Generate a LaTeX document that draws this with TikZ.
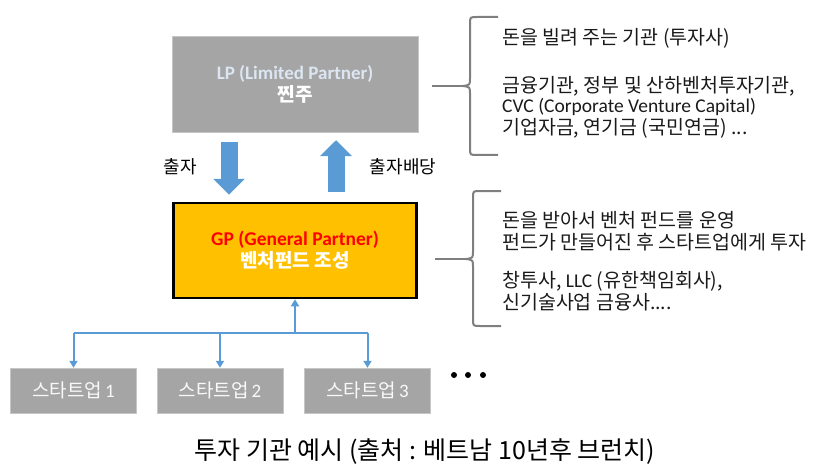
\documentclass[tikz,border=0pt]{standalone}
\usepackage{fontspec}
\setmainfont{Noto Sans CJK KR}
\newfontfamily\lat{Carlito}
\usetikzlibrary{arrows.meta,positioning,calc}
\definecolor{boxgray}{HTML}{A5A5A5}
\definecolor{lptext}{HTML}{DCE6F2}
\definecolor{gpyellow}{HTML}{FFC000}
\definecolor{arrowblue}{HTML}{5B9BD5}
\definecolor{bracegray}{HTML}{7F7F7F}
\definecolor{notetext}{HTML}{1A1A1A}

\begin{document}
\begin{tikzpicture}[x=1pt,y=-1pt,
gbox/.style={draw=gray!45,fill=boxgray,inner sep=0,align=center},
lpbox/.style={gbox,minimum width=246pt,minimum height=96pt},
gpbox/.style={draw=black,line width=2.5pt,fill=gpyellow,minimum width=243pt,minimum height=95pt,inner sep=0,align=center},
sbox/.style={gbox,minimum width=126pt,minimum height=45pt,text=white!95!gray,font=\fontsize{19}{22}\selectfont},
flow/.style={line width=17pt,draw=arrowblue,-{Triangle[width=31pt,length=16pt]}},
link/.style={line width=2pt,draw=arrowblue,-{Triangle[width=8pt,length=7pt]}},
brace/.style={line width=2pt,draw=bracegray},
note/.style={anchor=west,align=left,inner sep=0,text=notetext,font=\fontsize{19.5}{21}\selectfont},
lab/.style={font=\fontsize{18}{20}\selectfont}]
	\useasboundingbox (0,0) rectangle (838,468);

	\node[lpbox] (lp) at (295,84) {{\lat\bfseries\fontsize{19}{20}\selectfont\color{lptext}LP (Limited Partner)}\\[2pt]{\bfseries\fontsize{19}{22}\selectfont\color{white}찐주}};
	\node[gpbox] (gp) at (295,250.5) {{\lat\bfseries\fontsize{19.5}{20}\selectfont\color{red}GP (General Partner)}\\[2pt]{\bfseries\fontsize{19}{22}\selectfont\color{white}벤처펀드 조성}};
	\foreach \i/\x in {1/73.5,2/220,3/367.5} {
		\node[sbox] (s\i) at (\x,390.5) {스타트업\,{\lat\i}};
	}

	%invest
	\draw[flow] ($(lp.south)+(-66,10)$) -- ($(gp.north)+(-66,-7)$);
	\node[lab] (give) at (180,167) {출자};
	%dividend
	\draw[flow] ($(gp.north)+(41,-10)$) -- ($(lp.south)+(41,8)$);
	\node[lab] (back) at (403,167) {출자배당};

	%startups
	\coordinate (hub) at ($(gp.south)+(0,34)$);
	\draw[link] (hub) -- (gp.south);
	\draw[line width=2pt,draw=arrowblue] (s1.north |- hub) -- (s3.north |- hub);
	\foreach \i in {1,2,3} {
		\draw[link] (s\i.north |- hub) -- (s\i.north);
	}
	\foreach \x in {454,468,483} {
		\fill (\x,375) circle (3pt);
	}

	%braces
	\foreach \bx/\my/\ty/\by in {470/86/17/155,473/259/191/326} {
		\draw[brace] ({\bx-38},\my) -- ({\bx-7},\my);
		\draw[brace] ({\bx+28},\ty) -- ({\bx+7},\ty) .. controls (\bx,\ty) .. (\bx,{\ty+7})
			-- (\bx,{\my-8}) .. controls (\bx,{\my-1}) .. ({\bx-7},\my)
			.. controls (\bx,{\my+1}) .. (\bx,{\my+8}) -- (\bx,{\by-7})
			.. controls (\bx,\by) .. ({\bx+7},\by) -- ({\bx+28},\by);
	}

	\node[note] (lpn1) at (502,38) {돈을 빌려 주는 기관 (투자사)};
	\node[note] (lpn2) at (502,107) {금융기관, 정부 및 산하벤처투자기관,\\[-1pt]{\lat\fontsize{19.5}{20}\selectfont CVC (Corporate Venture Capital)}\\[1pt]기업자금, 연기금 (국민연금) ...};
	\node[note] (gpn1) at (502,231) {돈을 받아서 벤처 펀드를 운영\\[1pt]펀드가 만들어진 후 스타트업에게 투자};
	\node[note] (gpn2) at (502,291) {창투사, {\lat LLC} (유한책임회사),\\[1pt]신기술사업 금융사....};

	\node[font=\fontsize{25}{28}\selectfont] (cap) at (425,452) {투자 기관 예시 (출처 : 베트남 10년후 브런치)};
\end{tikzpicture}
\end{document}
